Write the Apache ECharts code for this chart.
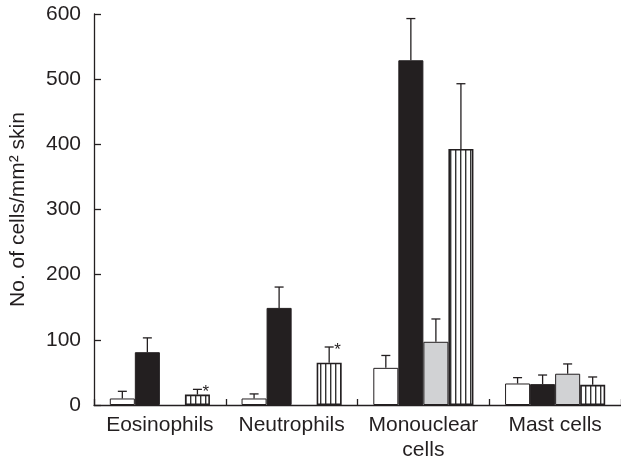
<!DOCTYPE html>
<html>
<head>
<meta charset="utf-8">
<script src="https://cdn.jsdelivr.net/npm/echarts@6/dist/echarts.min.js"></script>
<style>
html,body{margin:0;padding:0;background:#fff;}
#chart{width:621px;height:463px;}
</style>
</head>
<body>
<div id="chart"></div>
<script>
// ---- data ----
var categories = ['Eosinophils', 'Neutrophils', 'Monouclear\ncells', 'Mast cells'];
var yTicks = [0, 100, 200, 300, 400, 500, 600];
var whiteMean = [10, 10, 57, 33];
var whiteErr  = [21, 17, 76, 42];
var blackMean = [81, 149, 529, 32];
var blackErr  = [103, 181, 593, 46];
var grayMean  = ['-', '-', 97, 48];
var grayErr   = ['-', '-', 132, 63];
var stripeMean = [16, 65, 393, 31];
var stripeErr  = [24, 89, 493, 43];
var stripeSig  = [true, true, false, false];

// ---- styles ----
var FONT = 'Liberation Sans, Arial, Helvetica, sans-serif';
var INK = '#231f20';
var CAT_GAP = 0.24;
var NBARS = 4;

function stripePattern() {
  var c = document.createElement('canvas');
  c.width = 5; c.height = 10;
  var g = c.getContext('2d');
  g.fillStyle = '#ffffff';
  g.fillRect(0, 0, 5, 10);
  g.fillStyle = '#333333';
  g.fillRect(0, 0, 1.4, 10);
  return c;
}

var barDefs = [
  { name: 'white', mean: whiteMean, err: whiteErr, style: { color: '#ffffff', borderColor: INK, borderWidth: 1 } },
  { name: 'black', mean: blackMean, err: blackErr, style: { color: INK, borderColor: INK, borderWidth: 1 } },
  { name: 'gray',  mean: grayMean,  err: grayErr,  style: { color: '#d1d2d4', borderColor: INK, borderWidth: 1 } },
  { name: 'striped', mean: stripeMean, err: stripeErr, sig: stripeSig,
    style: { color: { image: stripePattern(), repeat: 'repeat' }, borderColor: INK, borderWidth: 1.6 } }
];

var series = [];
barDefs.forEach(function (d, k) {
  series.push({
    type: 'bar',
    name: d.name,
    data: d.mean,
    barGap: '0%',
    barCategoryGap: (CAT_GAP * 100) + '%',
    itemStyle: d.style,
    silent: true,
    z: 2
  });
});

barDefs.forEach(function (d, k) {
  var items = [];
  d.mean.forEach(function (m, i) {
    if (m === '-' || d.err[i] === '-') return;
    items.push([i, d.err[i], m, d.sig && d.sig[i] ? 1 : 0]);
  });
  series.push({
    type: 'custom',
    name: d.name + ' err',
    data: items,
    z: 3,
    silent: true,
    renderItem: (function (k) {
      return function (params, api) {
        var cat = api.value(0);
        var top = api.coord([cat, api.value(1)]);
        var base = api.coord([cat, api.value(2)]);
        var band = api.size([1, 0])[0];
        var bw = band * (1 - CAT_GAP) / NBARS;
        var x = top[0] + (k - (NBARS - 1) / 2) * bw;
        var cap = 4.5;
        var children = [
          { type: 'line', shape: { x1: x, y1: base[1], x2: x, y2: top[1] }, style: { stroke: INK, lineWidth: 1.3 } },
          { type: 'line', shape: { x1: x - cap, y1: top[1], x2: x + cap, y2: top[1] }, style: { stroke: INK, lineWidth: 1.3 } }
        ];
        if (api.value(3)) {
          children.push({ type: 'text', x: x + 5, y: top[1] + 3,
            style: { text: '*', fill: INK, font: '17px ' + FONT, align: 'left', verticalAlign: 'middle' } });
        }
        return { type: 'group', children: children };
      };
    })(k)
  });
});

var chart = echarts.init(document.getElementById('chart'), null, { renderer: 'canvas' });
chart.setOption({
  animation: false,
  backgroundColor: '#ffffff',
  grid: { left: 92, right: -2, top: 14, bottom: 57, containLabel: false },
  xAxis: {
    type: 'category',
    data: categories,
    axisLine: { lineStyle: { color: INK, width: 1.3 } },
    axisTick: { show: true, inside: true, length: 6, lineStyle: { color: INK, width: 1.3 } },
    axisLabel: { color: INK, fontFamily: FONT, fontSize: 21, margin: 8, lineHeight: 25, interval: 0 },
    splitLine: { show: false }
  },
  yAxis: {
    type: 'value',
    min: yTicks[0],
    max: yTicks[yTicks.length - 1],
    interval: yTicks[1] - yTicks[0],
    name: 'No. of cells/mm\u00b2 skin',
    nameLocation: 'middle',
    nameGap: 65,
    nameRotate: 90,
    nameTextStyle: { color: INK, fontFamily: FONT, fontSize: 21 },
    axisLine: { show: true, lineStyle: { color: INK, width: 1.3 } },
    axisTick: { show: true, inside: true, length: 7, lineStyle: { color: INK, width: 1.3 } },
    axisLabel: { color: INK, fontFamily: FONT, fontSize: 21, margin: 13 },
    splitLine: { show: false }
  },
  series: series
});
</script>
</body>
</html>
